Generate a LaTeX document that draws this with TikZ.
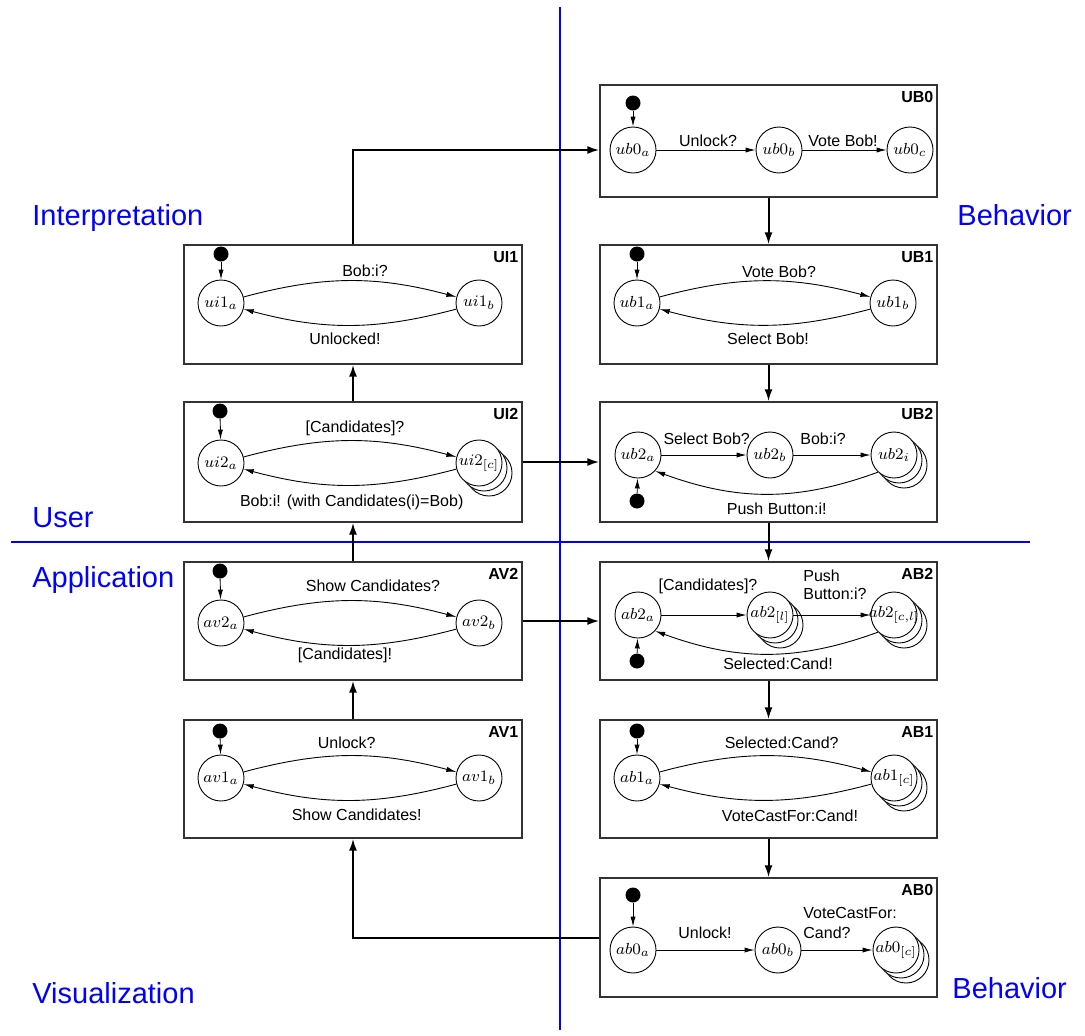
\documentclass[tikz,border=0pt]{standalone}
\usepackage[no-math]{fontspec}
\setmainfont{Liberation Sans}
\usetikzlibrary{arrows.meta,shadows}
\newcommand\stlab[1]{\makebox[0pt]{$#1$}}
\begin{document}
\begin{tikzpicture}[x=0.5pt,y=0.5pt,
 panel/.style={draw=black!80, line width=0.65pt, rectangle, inner sep=0pt},
 st/.style={circle, draw, line width=0.45pt, fill=white, minimum size=23pt, inner sep=0pt, font=\fontsize{8}{9.6}\selectfont},
 multi/.style={st, double copy shadow={shadow xshift=2.5pt, shadow yshift=-2.5pt}},
 dot/.style={circle, fill=black, minimum size=7.5pt, inner sep=0pt},
 tr/.style={-{Latex[length=5pt,width=2.6pt]}, line width=0.45pt},
 conn/.style={-{Latex[length=6pt,width=4pt]}, line width=1pt},
 lab/.style={font=\fontsize{8}{9.6}\selectfont, inner sep=0pt, anchor=base},
 ttl/.style={font=\bfseries\fontsize{8}{9.6}\selectfont, anchor=north east, inner sep=0pt},
 region/.style={text=blue, font=\fontsize{14.5}{17}\selectfont, anchor=base west, inner sep=0pt},
 divider/.style={blue, line width=0.6pt}]
\path[use as bounding box] (0,0) rectangle (1085,-1035);

% dividers
\draw[divider] (560,-7) -- (560,-1030);
\draw[divider] (11,-542) -- (1030,-542);

% region labels
\node[region] (rInt) at (32,-225) {Interpretation};
\node[region] (rBeh1) at (957,-225) {Behavior};
\node[region] (rUser) at (32,-527) {User};
\node[region] (rApp) at (32,-587) {Application};
\node[region] (rVis) at (32,-1003) {Visualization};
\node[region] (rBeh2) at (952,-998) {Behavior};

% panels
\node[panel, minimum width=168.5pt, minimum height=56pt] (UB0) at (768.5,-141) {};
\node[panel, minimum width=168.5pt, minimum height=59.5pt] (UB1) at (768.5,-304.5) {};
\node[panel, minimum width=168.5pt, minimum height=60pt] (UB2) at (768.5,-462) {};
\node[panel, minimum width=168.5pt, minimum height=59pt] (AB2) at (768.5,-621) {};
\node[panel, minimum width=168.5pt, minimum height=59pt] (AB1) at (768.5,-779) {};
\node[panel, minimum width=168.5pt, minimum height=59.5pt] (AB0) at (768.5,-937.5) {};
\node[panel, minimum width=169pt, minimum height=59.5pt] (UI1) at (353,-304.5) {};
\node[panel, minimum width=169pt, minimum height=60pt] (UI2) at (353,-462) {};
\node[panel, minimum width=169pt, minimum height=59pt] (AV2) at (353,-621) {};
\node[panel, minimum width=169pt, minimum height=59pt] (AV1) at (353,-779) {};

% titles
\foreach \b in {UB0,UB1,UB2,AB2,AB1,AB0,UI1,UI2,AV2,AV1}
  \node[ttl] (t\b) at ([xshift=-2pt,yshift=-3.5pt]\b.north east) {\b};

% ---- UB0
\node[dot] (ub0i) at (633,-103) {};
\node[st] (ub0a) at (633,-150) {\stlab{ub0_a}};
\node[st] (ub0b) at (779,-150) {\stlab{ub0_b}};
\node[st] (ub0c) at (910,-150) {\stlab{ub0_c}};
\draw[tr] (ub0i) -- (ub0a);
\draw[tr] (ub0a) -- (ub0b);
\draw[tr] (ub0b) -- (ub0c);
\node[lab] (l1) at (708,-146.7) {Unlock?};
\node[lab] (l2) at (843,-146.7) {Vote Bob!};

% ---- UB1
\node[dot] (ub1i) at (637,-254) {};
\node[st] (ub1a) at (637,-303) {\stlab{ub1_a}};
\node[st] (ub1b) at (893,-303) {\stlab{ub1_b}};
\draw[tr] (ub1i) -- (ub1a);
\draw[tr] (ub1a) to[bend left=15] (ub1b);
\draw[tr] (ub1b) to[bend left=15] (ub1a);
\node[lab] (l3) at (779,-277) {Vote Bob?};
\node[lab] (l4) at (768,-344) {Select Bob!};

% ---- UB2
\node[dot] (ub2i) at (637,-501) {};
\node[st] (ub2a) at (638,-455) {\stlab{ub2_a}};
\node[st] (ub2b) at (770,-455) {\stlab{ub2_b}};
\node[multi] (ub2s) at (894,-455) {\stlab{ub2_i}};
\draw[tr] (ub2i) -- (ub2a);
\draw[tr] (ub2a) -- (ub2b);
\draw[tr] (ub2b) -- (ub2s);
\draw[tr] (ub2s.227) to[out=200,in=-20] (ub2a.-43);
\node[lab] (l5) at (706.7,-444) {Select Bob?};
\node[lab] (l6) at (823,-444) {Bob:i?};
\node[lab] (l7) at (776.7,-514) {Push Button:i!};

% ---- AB2
\node[dot] (ab2i) at (637,-661) {};
\node[st] (ab2a) at (638,-615) {\stlab{ab2_a}};
\node[multi] (ab2l) at (770,-615) {\stlab{ab2_{[l]}}};
\node[multi] (ab2c) at (894,-615) {\stlab{ab2_{[c,l]}}};
\draw[tr] (ab2i) -- (ab2a);
\draw[tr] (ab2a) -- (ab2l);
\draw[tr] (ab2l) -- (ab2c);
\draw[tr] (ab2c.227) to[out=200,in=-20] (ab2a.-43);
\node[lab] (l8) at (708,-590.7) {[Candidates]?};
\node[lab, anchor=base west, align=left, font=\fontsize{8}{8.8}\selectfont] (l9) at (803,-599.3) {Push\\Button:i?};
\node[lab] (l10) at (778,-669) {Selected:Cand!};

% ---- AB1
\node[dot] (ab1i) at (637,-731) {};
\node[st] (ab1a) at (637,-778) {\stlab{ab1_a}};
\node[multi] (ab1c) at (894,-778) {\stlab{ab1_{[c]}}};
\draw[tr] (ab1i) -- (ab1a);
\draw[tr] (ab1a) to[bend left=15] (ab1c);
\draw[tr] (ab1c) to[bend left=15] (ab1a);
\node[lab] (l11) at (781.7,-748.3) {Selected:Cand?};
\node[lab] (l12) at (790,-821.7) {VoteCastFor:Cand!};

% ---- AB0
\node[dot] (ab0i) at (633,-895) {};
\node[st] (ab0a) at (633,-950) {\stlab{ab0_a}};
\node[st] (ab0b) at (778,-950) {\stlab{ab0_b}};
\node[multi] (ab0c) at (896,-950) {\stlab{ab0_{[c]}}};
\draw[tr] (ab0i) -- (ab0a);
\draw[tr] (ab0a) -- (ab0b);
\draw[tr] (ab0b) -- (ab0c);
\node[lab] (l13) at (705,-938.3) {Unlock!};
\node[lab, anchor=base west, align=left, font=\fontsize{8}{10}\selectfont] (l14) at (803,-938.3) {VoteCastFor:\\Cand?};

% ---- UI1
\node[dot] (ui1i) at (221,-254) {};
\node[st] (ui1a) at (221,-303) {\stlab{ui1_a}};
\node[st] (ui1b) at (479,-303) {\stlab{ui1_b}};
\draw[tr] (ui1i) -- (ui1a);
\draw[tr] (ui1a) to[bend left=15] (ui1b);
\draw[tr] (ui1b) to[bend left=15] (ui1a);
\node[lab] (l15) at (365,-276.7) {Bob:i?};
\node[lab] (l16) at (345,-344) {Unlocked!};

% ---- UI2
\node[dot] (ui2i) at (220,-411) {};
\node[st] (ui2a) at (221,-463) {\stlab{ui2_a}};
\node[multi] (ui2c) at (479,-463) {\stlab{ui2_{[c]}}};
\draw[tr] (ui2i) -- (ui2a);
\draw[tr] (ui2a) to[bend left=15] (ui2c);
\draw[tr] (ui2c) to[bend left=15] (ui2a);
\node[lab] (l17) at (355,-432) {[Candidates]?};
\node[lab] (l18) at (351.7,-506.7) {Bob:i! (with Candidates(i)=Bob)};

% ---- AV2
\node[dot] (av2i) at (220,-571) {};
\node[st] (av2a) at (221,-623) {\stlab{av2_a}};
\node[st] (av2b) at (479,-623) {\stlab{av2_b}};
\draw[tr] (av2i) -- (av2a);
\draw[tr] (av2a) to[bend left=15] (av2b);
\draw[tr] (av2b) to[bend left=15] (av2a);
\node[lab] (l19) at (373,-591.7) {Show Candidates?};
\node[lab] (l20) at (345,-659) {[Candidates]!};

% ---- AV1
\node[dot] (av1i) at (220,-731) {};
\node[st] (av1a) at (221,-778) {\stlab{av1_a}};
\node[st] (av1b) at (479,-778) {\stlab{av1_b}};
\draw[tr] (av1i) -- (av1a);
\draw[tr] (av1a) to[bend left=15] (av1b);
\draw[tr] (av1b) to[bend left=15] (av1a);
\node[lab] (l21) at (346.7,-748.3) {Unlock?};
\node[lab] (l22) at (356.7,-820) {Show Candidates!};

% ---- connectors between panels
\draw[conn] (UI1.north) |- (ub0a -| UB0.west);
\draw[conn] (UB0.south) -- (UB1.north);
\draw[conn] (UB1.south) -- (UB2.north);
\draw[conn] (UB2.south) -- (AB2.north);
\draw[conn] (AB2.south) -- (AB1.north);
\draw[conn] (AB1.south) -- (AB0.north);
\draw[conn] (AB0.west) -| (AV1.south);
\draw[conn] (AV1.north) -- (AV2.south);
\draw[conn] (AV2.north) -- (UI2.south);
\draw[conn] (UI2.north) -- (UI1.south);
\draw[conn] (UI2.east) -- (UB2.west);
\draw[conn] (AV2.east) -- (AB2.west);
\end{tikzpicture}
\end{document}
